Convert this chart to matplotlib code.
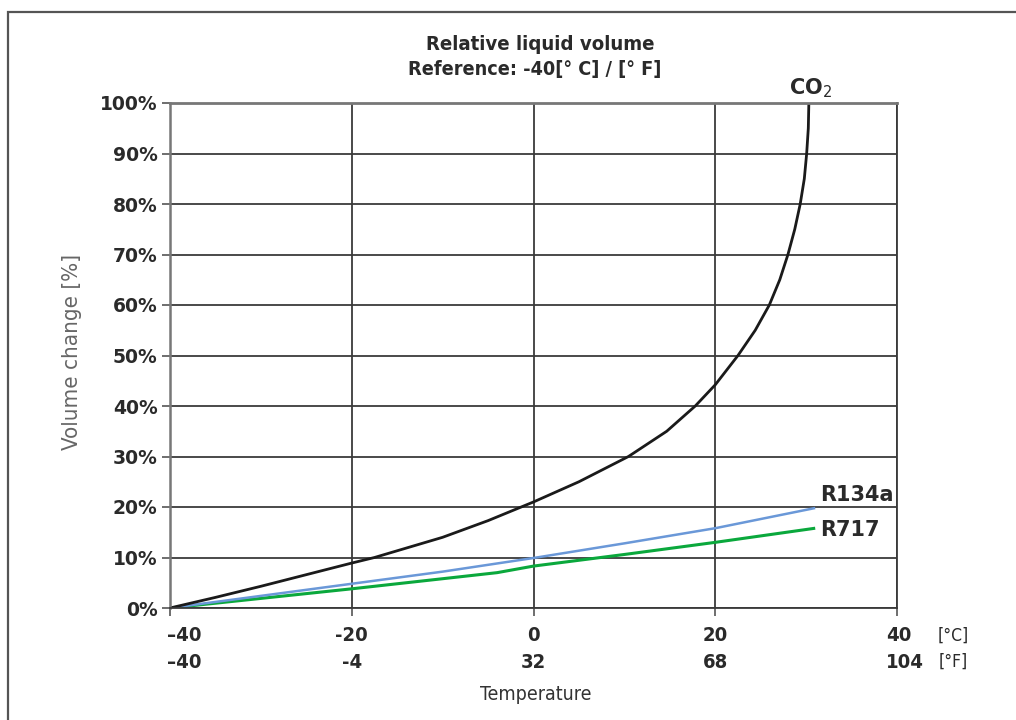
import matplotlib.pyplot as plt
from matplotlib.patches import Rectangle
from matplotlib.transforms import offset_copy

# temperature [°C] -> relative liquid volume change [%]
co2_t = [-40, -35, -30, -25, -20, -17.5, -10, -5, 0, 5, 10.45, 14.66, 17.8, 20,
         22.5, 24.4, 25.95, 27.1, 28.0, 28.75, 29.35, 29.8, 30.06, 30.24, 30.3]
co2_v = [0, 2.1, 4.3, 6.6, 8.9, 10, 14, 17.3, 21, 25, 30, 35, 40, 44.2,
         50, 55, 60, 65, 70, 75, 80, 85, 90, 95, 100]

r134a_t = [-40, -20, -10, 0, 10, 20, 31]
r134a_v = [0, 4.8, 7.2, 9.9, 12.8, 15.8, 19.8]

r717_t = [-40, -20, -4, 0, 10, 20, 31]
r717_v = [0, 3.8, 7.0, 8.3, 10.6, 13.0, 15.8]

c_ticks = [-40, -20, 0, 20, 40]
c_labels = ["\u201340", "-20", "0", "20", "40"]
f_labels = ["\u201340", "-4", "32", "68", "104"]
y_ticks = list(range(0, 101, 10))

wide = {"family": "DejaVu Sans", "weight": "bold"}
cond = {"family": "DejaVu Sans", "stretch": "condensed"}

fig = plt.figure(figsize=(10.16, 7.2), dpi=100)
fig.patches.append(Rectangle((8 / 1016, -0.1), 1.2, 1.1 - 12 / 720,
                             transform=fig.transFigure, fill=False,
                             edgecolor="#555555", linewidth=1.6))

ax = fig.add_axes([170 / 1016, 1 - 608 / 720, 727 / 1016, 505 / 720])
ax.set_xlim(-40, 40)
ax.set_ylim(0, 100)

ax.grid(True, color="#3a3a3a", linewidth=1.3)
ax.set_axisbelow(True)
for s in ax.spines.values():
    s.set_color("#3a3a3a")
    s.set_linewidth(1.3)
ax.spines["left"].set_color("#777777")
ax.spines["left"].set_linewidth(1.8)
ax.spines["top"].set_color("#777777")
ax.spines["top"].set_linewidth(2)

ax.plot(r717_t, r717_v, color="#0aa83c", lw=2.2, solid_capstyle="butt")
ax.plot(r134a_t, r134a_v, color="#6a98d8", lw=1.8, solid_capstyle="butt")
ax.plot(co2_t, co2_v, color="#1a1a1a", lw=2.0, solid_capstyle="butt")

ax.set_yticks(y_ticks)
ax.set_yticklabels([f"{v}%" for v in y_ticks], fontdict=wide, fontsize=13.5, color="#2a2a2a")
ax.tick_params(axis="y", length=6, width=1.2, color="#555555", pad=3)

ax.set_xticks(c_ticks)
ax.set_xticklabels([])
ax.tick_params(axis="x", length=6, width=1.2, color="#555555")
xt = ax.get_xaxis_transform()
for i, (t, cl, fl) in enumerate(zip(c_ticks, c_labels, f_labels)):
    if i == 0:
        tr, ha = offset_copy(xt, fig=fig, x=-3, units="dots"), "left"
    elif i == len(c_ticks) - 1:
        tr, ha = offset_copy(xt, fig=fig, x=-11, units="dots"), "left"
    else:
        tr, ha = xt, "center"
    ax.text(t, -0.055, cl, transform=tr, ha=ha, va="center",
            fontsize=14.5, weight="bold", color="#2a2a2a", **cond)
    ax.text(t, -0.107, fl, transform=tr, ha=ha, va="center",
            fontsize=14.5, weight="bold", color="#2a2a2a", **cond)

fig.text(953 / 1016, 1 - 636 / 720, "[\u00b0C]", ha="center", va="center",
         fontsize=12.5, color="#2a2a2a", **cond)
fig.text(953 / 1016, 1 - 662 / 720, "[\u00b0F]", ha="center", va="center",
         fontsize=12.5, color="#2a2a2a", **cond)

fig.text(536 / 1016, 1 - 695 / 720, "Temperature", ha="center", va="center",
         fontsize=14, color="#333333", **cond)
fig.text(72 / 1016, 1 - 352 / 720, "Volume change [%]", ha="center", va="center",
         rotation=90, fontsize=16, color="#666666", **cond)

fig.text(540 / 1016, 1 - 45 / 720, "Relative liquid volume", ha="center", va="center",
         fontsize=14.6, weight="bold", color="#2a2a2a", **cond)
fig.text(535 / 1016, 1 - 70 / 720, "Reference: -40[\u00b0 C] / [\u00b0 F]", ha="center",
         va="center", fontsize=14.2, weight="bold", color="#2a2a2a", **cond)

ax.text(811 / 1016, 1 - 88 / 720, "CO$_2$", transform=fig.transFigure, ha="center",
        va="center", fontsize=15, color="#2a2a2a", **wide)
ax.text(820 / 1016, 1 - 495 / 720, "R134a", transform=fig.transFigure, ha="left",
        va="center", fontsize=15, color="#2a2a2a", **wide)
ax.text(820 / 1016, 1 - 530 / 720, "R717", transform=fig.transFigure, ha="left",
        va="center", fontsize=15, color="#2a2a2a", **wide)

plt.savefig("out.png", dpi=100)
